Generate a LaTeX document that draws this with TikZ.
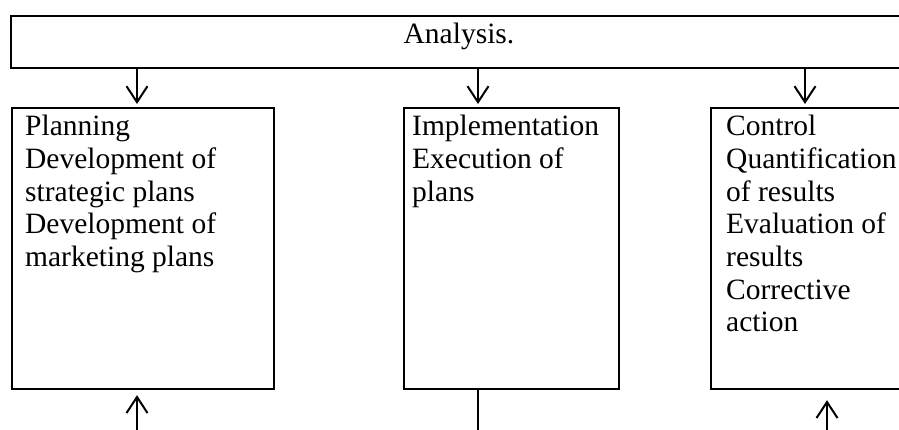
\documentclass[tikz,border=0pt]{standalone}
\usepackage{fontspec}
\setmainfont{Liberation Serif}
\usetikzlibrary{arrows.meta,positioning}
\tikzset{frame/.style={draw, line width=2.2pt, anchor=north west, inner sep=0pt}, txt/.style={anchor=north west, align=left, inner sep=0pt, font=\fontsize{29.5}{32.7}\selectfont}, edge/.style={-{Straight Barb[length=16pt,width=21pt]}, line width=2pt}, plain/.style={line width=1.5pt}}

\begin{document}
\begin{tikzpicture}[x=1pt,y=-1pt]
\useasboundingbox (0,0) rectangle (899,430); \clip (0,0) rectangle (899,430);
\node[frame,minimum width=898pt,minimum height=52pt] (analysis) at (10,15) {};
\node[txt,anchor=base] (analysistxt) at (459,43.5) {Analysis.};
\node[frame,minimum width=262pt,minimum height=281pt] (plan) at (11,107) {};
\node[frame,minimum width=215pt,minimum height=281pt] (impl) at (403,107) {};
\node[frame,minimum width=215pt,minimum height=281pt] (ctrl) at (710,107) {};
\node[txt] (plantxt) at (25,115) {Planning\\Development of\\strategic plans\\Development of\\marketing plans};
\node[txt] (impltxt) at (412,115) {Implementation\\Execution of\\plans};
\node[txt] (ctrltxt) at (726,115) {Control\\Quantification\\of results\\Evaluation of\\results\\Corrective\\action};
% free ends below the boxes
\coordinate (planfoot) at (137,430); \coordinate (implfoot) at (478,430); \coordinate (ctrlfoot) at (827,430);
\draw[edge,shorten >=3pt] (analysis.south -| planfoot) -- (plan.north -| planfoot); \draw[edge,shorten >=3pt] (analysis.south -| implfoot) -- (impl.north -| implfoot); \draw[edge,shorten >=3pt] (analysis.south -| 805,0) -- (ctrl.north -| 805,0);
\draw[edge,shorten >=5pt] (planfoot) -- (plan.south -| planfoot); \draw[plain] (implfoot) -- (impl.south -| implfoot); \draw[edge,shorten >=10pt] (ctrlfoot) -- (ctrl.south -| ctrlfoot);
\end{tikzpicture}
\end{document}
